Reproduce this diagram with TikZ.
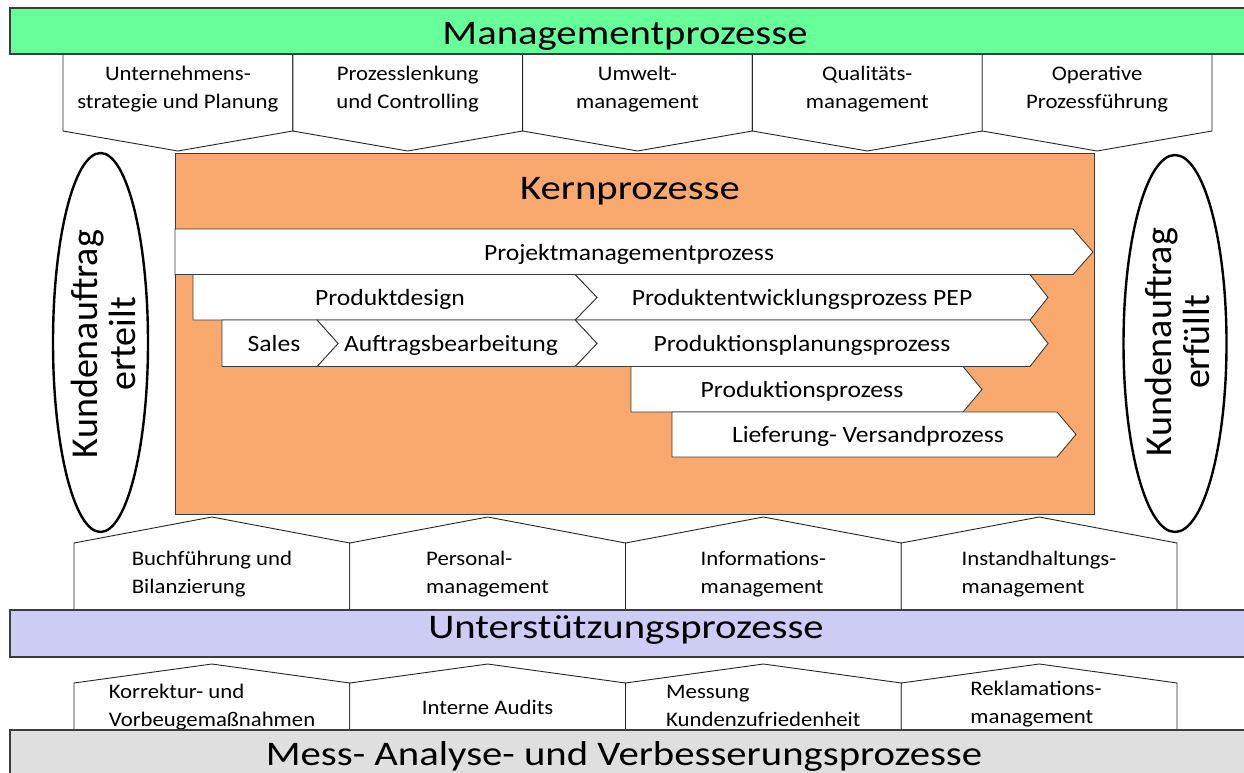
\documentclass[tikz,border=0pt]{standalone}
\usepackage{fontspec}
\setmainfont{Carlito}[FakeStretch=1.1]
\newfontfamily\titlefont{Carlito}[FakeStretch=1.18]
\newfontfamily\sidefont{Carlito}
\usetikzlibrary{shapes.geometric}

\definecolor{mgmtgreen}{HTML}{66FF99}
\definecolor{coreorange}{HTML}{F9A96E}
\definecolor{supportblue}{HTML}{CCCCF4}
\definecolor{measuregray}{HTML}{DFDFDF}
\definecolor{edgegray}{HTML}{3C3C3C}

\begin{document}
\begin{tikzpicture}[x=1pt,y=-1pt,
  band/.style={draw=edgegray, line width=1.3pt},
  tile/.style={draw=black!85, fill=white, line width=0.9pt, line join=miter},
  flow/.style={draw=edgegray, fill=white, line width=0.9pt, line join=miter},
  titletext/.style={font=\titlefont\fontsize{34.5}{41}\selectfont, inner sep=0pt, anchor=base},
  flowtext/.style={font=\fontsize{23.3}{28}\selectfont, inner sep=0pt, anchor=base},
  tiletext/.style={font=\fontsize{20.7}{27.5}\selectfont, align=center, inner sep=0pt},
  tileleft/.style={font=\fontsize{20.7}{27.5}\selectfont, align=left, inner sep=0pt},
  milestone/.style={draw=black, line width=2.4pt, ellipse, fill=white, inner sep=0pt},
  sidetext/.style={rotate=90, align=center, font=\sidefont\fontsize{38}{38}\selectfont, inner sep=0pt}]
\useasboundingbox (0,0) rectangle (1244,773);
\fill[white] (0,0) rectangle (1244,773);
\begin{scope}
\clip (0,0) rectangle (1244,773);

% ---------- management processes: tiles hanging below the band ----------
\foreach \i in {0,...,4}{
  \draw[tile] ({63+229.8*\i},54) -- ({63+229.8*\i},131) -- ({63+229.8*\i+114.9},151)
    -- ({63+229.8*(\i+1)},131) -- ({63+229.8*(\i+1)},54) -- cycle;
}
\draw[band, fill=mgmtgreen] (10,8) rectangle (1260,54);
\node[titletext] (mgmt) at (625,45) {Managementprozesse};

\node[tiletext] (m1) at (177.9,89) {Unternehmens-\\strategie und Planung};
\node[tiletext] (m2) at (407.7,89) {Prozesslenkung\\und Controlling};
\node[tiletext] (m3) at (637.5,89) {Umwelt-\\management};
\node[tiletext] (m4) at (867.3,89) {Qualitäts-\\management};
\node[tiletext] (m5) at (1097.1,89) {Operative\\Prozessführung};

% ---------- core processes ----------
\draw[draw=edgegray, line width=1pt, fill=coreorange] (175,153) rectangle (1094,514);
\node[titletext] (core) at (630,199) {Kernprozesse};

% project management (full width)
\draw[flow] (175,229) -- (1073,229) -- (1093,252) -- (1073,274.5) -- (175,274.5) -- cycle;
\node[flowtext] (pm) at (629,260) {Projektmanagementprozess};

% product design / development
\draw[flow] (575,274.5) -- (1030,274.5) -- (1048,297.5) -- (1030,320) -- (575,320) -- (597,297.5) -- cycle;
\draw[flow] (193,274.5) -- (575,274.5) -- (597,297.5) -- (575,320) -- (193,320) -- cycle;
\node[flowtext] (design) at (390,305.5) {Produktdesign};
\node[flowtext] (pep) at (802,305.5) {Produktentwicklungsprozess PEP};

% sales, order handling, production planning
\draw[flow] (575,320) -- (1030,320) -- (1048,343.5) -- (1030,366.5) -- (575,366.5) -- (597,343.5) -- cycle;
\draw[flow] (317,320) -- (575,320) -- (597,343.5) -- (575,366.5) -- (317,366.5) -- (338,343.5) -- cycle;
\draw[flow] (222,320) -- (317,320) -- (338,343.5) -- (317,366.5) -- (222,366.5) -- cycle;
\node[flowtext] (sales) at (274,351.5) {Sales};
\node[flowtext] (order) at (451,351.5) {Auftragsbearbeitung};
\node[flowtext] (plan) at (802,351.5) {Produktionsplanungsprozess};

% production
\draw[flow] (631,366.5) -- (963,366.5) -- (982,389.5) -- (963,412) -- (631,412) -- cycle;
\node[flowtext] (prod) at (802,397) {Produktionsprozess};

% delivery
\draw[flow] (672,412) -- (1057,412) -- (1076,434.5) -- (1057,457) -- (672,457) -- cycle;
\node[flowtext] (ship) at (868,442) {Lieferung- Versandprozess};

% ---------- customer order start / end ----------
\node[milestone, minimum width=95pt, minimum height=379pt] (start) at (100.5,342.5) {};
\node[sidetext] (starttext) at (103,344) {Kundenauftrag\\erteilt};
\node[milestone, minimum width=103pt, minimum height=377pt] (finish) at (1175,343.5) {};
\node[sidetext] (finishtext) at (1177,342) {Kundenauftrag\\erfüllt};

% ---------- support processes ----------
\foreach \i in {0,...,3}{
  \draw[tile] ({74+275.75*\i},611) -- ({74+275.75*\i},543) -- ({74+275.75*\i+137.9},517)
    -- ({74+275.75*(\i+1)},543) -- ({74+275.75*(\i+1)},611) -- cycle;
}
\node[tileleft] (s1) at (212,574) {Buchführung und\\Bilanzierung};
\node[tileleft] (s2) at (487.6,574) {Personal-\\management};
\node[tileleft] (s3) at (763.4,574) {Informations-\\management};
\node[tileleft] (s4) at (1039,574) {Instandhaltungs-\\management};
\draw[band, fill=supportblue] (10,610) rectangle (1260,657);
\node[titletext] (support) at (626,638) {Unterstützungsprozesse};

% ---------- measurement, analysis and improvement ----------
\foreach \i in {0,...,3}{
  \draw[tile] ({74+275.75*\i},731) -- ({74+275.75*\i},683) -- ({74+275.75*\i+137.9},664)
    -- ({74+275.75*(\i+1)},683) -- ({74+275.75*(\i+1)},731) -- cycle;
}
\node[tileleft] (a1) at (212,707) {Korrektur- und\\Vorbeugemaßnahmen};
\node[tiletext] (a2) at (487.6,707) {Interne Audits};
\node[tileleft] (a3) at (763.4,706) {Messung\\Kundenzufriedenheit};
\node[tileleft] (a4) at (1036,704) {Reklamations-\\management};
\draw[band, fill=measuregray] (10,730) rectangle (1260,800);
\node[titletext] (measure) at (624,765) {Mess- Analyse- und Verbesserungsprozesse};
\end{scope}
\end{tikzpicture}
\end{document}
